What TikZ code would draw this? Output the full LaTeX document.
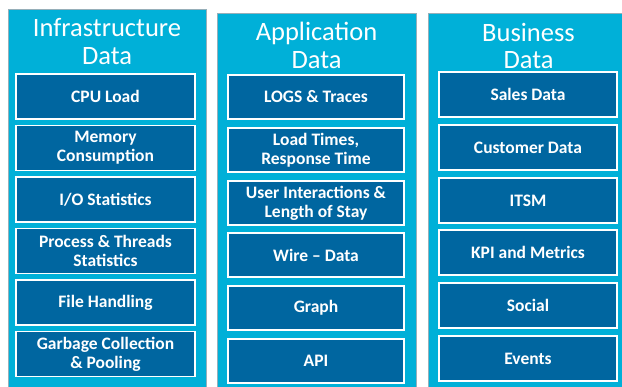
\documentclass[tikz,border=0pt]{standalone}
\usepackage{fontspec}
\setmainfont{Carlito}
\definecolor{colcyan}{RGB}{0,176,216}
\definecolor{boxblue}{RGB}{0,102,160}
\definecolor{coledge}{RGB}{150,175,185}
\begin{document}
\begin{tikzpicture}[x=1pt,y=-1pt,
  colbg/.style={fill=colcyan,draw=coledge,line width=0.4pt},
  title/.style={anchor=base,text=white,inner sep=0pt,font=\fontsize{26.5}{27.6}\selectfont},
  databox/.style={draw=white,line width=1.6pt,fill=boxblue,text=white,align=center,
    inner sep=0pt,minimum height=44pt,font=\bfseries\fontsize{17.5}{19}\selectfont},
  boxA/.style={databox,minimum width=179pt},
  boxB/.style={databox,minimum width=176pt},
  boxC/.style={databox,minimum width=178pt}]
\useasboundingbox (0,0) rectangle (622,387);
\fill[white] (0,0) rectangle (622,387);
% columns
\path[colbg] (8,9) rectangle (206,388);
\path[colbg] (217,13) rectangle (416,388);
\path[colbg] (428,13) rectangle (623,388);
% titles
\node[title] (t1a) at (107,36.7) {Infrastructure};
\node[title] (t1b) at (107,64.3) {Data};
\node[title] (t2a) at (316.5,41) {Application};
\node[title] (t2b) at (316.5,69) {Data};
\node[title] (t3a) at (528.5,41.7) {Business};
\node[title] (t3b) at (528.5,69) {Data};
% column 1
\node[boxA,minimum height=45pt] (a1) at (105.5,96.5) {CPU Load};
\node[boxA,minimum height=45pt] (a2) at (105.5,148) {Memory\\Consumption};
\node[boxA,minimum height=45pt] (a3) at (105.5,199.5) {I/O Statistics};
\node[boxA,minimum height=45pt] (a4) at (105.5,251) {Process \& Threads\\Statistics};
\node[boxA,minimum height=45pt] (a5) at (105.5,302.5) {File Handling};
\node[boxA,minimum height=45pt] (a6) at (105.5,354) {Garbage Collection\\\& Pooling};
% column 2
\node[boxB] (b1) at (316,97) {LOGS \& Traces};
\node[boxB] (b2) at (316,150) {Load Times,\\Response Time};
\node[boxB] (b3) at (316,203) {User Interactions \&\\Length of Stay};
\node[boxB] (b4) at (316,255) {Wire – Data};
\node[boxB] (b5) at (316,308) {Graph};
\node[boxB] (b6) at (316,361) {API};
% column 3
\node[boxC,minimum height=45pt] (c1) at (528,94.5) {Sales Data};
\node[boxC,minimum height=45pt] (c2) at (528,147.5) {Customer Data};
\node[boxC,minimum height=45pt] (c3) at (528,200.5) {ITSM};
\node[boxC,minimum height=45pt] (c4) at (528,252.5) {KPI and Metrics};
\node[boxC,minimum height=45pt] (c5) at (528,305.5) {Social};
\node[boxC,minimum height=45pt] (c6) at (528,358.5) {Events};
\end{tikzpicture}
\end{document}
